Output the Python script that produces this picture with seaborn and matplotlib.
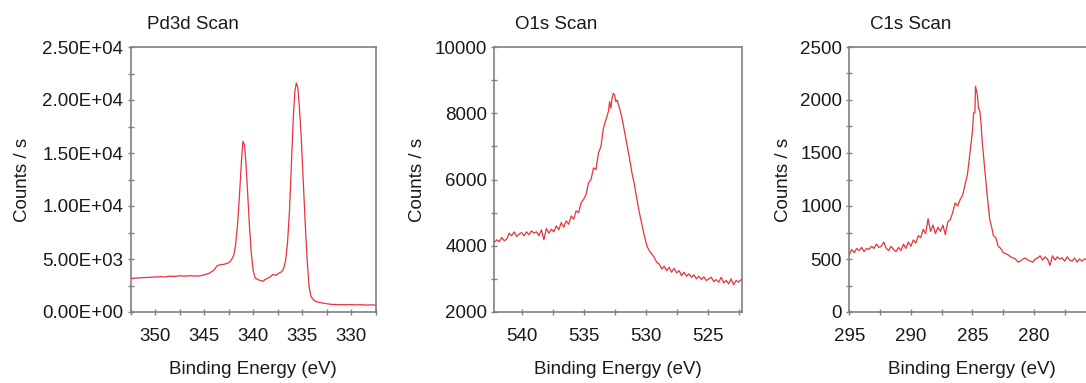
import matplotlib
matplotlib.use("Agg")
import matplotlib.pyplot as plt
from matplotlib.ticker import MultipleLocator, FuncFormatter
import seaborn as sns
import numpy as np

# ---------------- data ----------------
pd_energy = [352.6, 352.0, 351.5, 351.0, 350.5, 350.0, 349.5, 349.0, 348.5, 348.0,
             347.5, 347.0, 346.5, 346.0, 345.5, 345.0, 344.5, 344.0, 343.7, 343.4,
             343.0, 342.6, 342.3, 342.0, 341.8, 341.6, 341.4, 341.2, 341.05, 340.9,
             340.75, 340.6, 340.4, 340.2, 340.0, 339.8, 339.5, 339.2, 339.0, 338.8,
             338.5, 338.2, 338.0, 337.7, 337.4, 337.1, 336.9, 336.7, 336.5, 336.3,
             336.1, 335.9, 335.75, 335.6, 335.45, 335.3, 335.1, 334.9, 334.7, 334.5,
             334.3, 334.1, 333.8, 333.5, 333.0, 332.5, 332.0, 331.5, 331.0, 330.5,
             330.0, 329.5, 329.0, 328.5, 328.0, 327.5]
pd_counts = [3150, 3200, 3230, 3250, 3280, 3300, 3330, 3310, 3380, 3350,
             3420, 3380, 3420, 3400, 3400, 3500, 3650, 3950, 4350, 4450,
             4500, 4600, 4800, 5300, 6300, 8200, 11000, 14200, 16100, 15800,
             14200, 11800, 8400, 5600, 3900, 3200, 3050, 2950, 2900, 3050,
             3200, 3350, 3550, 3450, 3650, 3800, 4100, 4800, 6500, 9500,
             14000, 18500, 20800, 21600, 21200, 19500, 16500, 12500, 8500, 5000,
             2400, 1450, 1100, 950, 860, 780, 720, 700, 690, 680,
             700, 670, 690, 650, 680, 640]

o_energy = [542.2, 542.0, 541.8, 541.6, 541.4, 541.2, 541.0, 540.8, 540.6, 540.4,
            540.2, 540.0, 539.8, 539.6, 539.4, 539.2, 539.0, 538.8, 538.6, 538.4,
            538.2, 538.0, 537.8, 537.6, 537.4, 537.2, 537.0, 536.8, 536.6, 536.4,
            536.2, 536.0, 535.8, 535.6, 535.4, 535.2, 535.0, 534.8, 534.6, 534.4,
            534.2, 534.0, 533.8, 533.6, 533.4, 533.2, 533.0, 532.9, 532.8, 532.7,
            532.6, 532.5, 532.4, 532.3, 532.1, 531.9, 531.7, 531.5, 531.3, 531.1,
            530.9, 530.7, 530.5, 530.3, 530.1, 529.9, 529.7, 529.5, 529.3, 529.1,
            528.9, 528.7, 528.5, 528.3, 528.1, 527.9, 527.7, 527.5, 527.3, 527.1,
            526.9, 526.7, 526.5, 526.3, 526.1, 525.9, 525.7, 525.5, 525.3, 525.1,
            524.9, 524.7, 524.5, 524.3, 524.1, 523.9, 523.7, 523.5, 523.3, 523.1,
            522.9, 522.7, 522.5, 522.3, 522.1]
o_counts = [4100, 4180, 4120, 4250, 4150, 4200, 4380, 4300, 4420, 4280,
            4350, 4400, 4300, 4420, 4330, 4450, 4380, 4420, 4300, 4480,
            4180, 4520, 4380, 4500, 4420, 4600, 4480, 4700, 4560, 4750,
            4650, 4900, 4800, 5050, 5000, 5300, 5400, 5550, 5900, 6000,
            6350, 6300, 6800, 7000, 7550, 7800, 8050, 8350, 8150, 8450,
            8600, 8550, 8350, 8400, 8150, 7850, 7450, 7050, 6650, 6200,
            5850, 5400, 5000, 4650, 4300, 4000, 3850, 3750, 3650, 3500,
            3450, 3300, 3380, 3250, 3350, 3200, 3320, 3180, 3250, 3100,
            3200, 3080, 3150, 3050, 3120, 3000, 3080, 2980, 3060, 2950,
            3000, 3050, 2920, 2980, 2900, 3050, 2880, 2950, 2850, 3000,
            2820, 2950, 2900, 2980, 3000]

c_energy = [295.0, 294.8, 294.6, 294.4, 294.2, 294.0, 293.8, 293.6, 293.4, 293.2,
            293.0, 292.8, 292.6, 292.4, 292.2, 292.0, 291.8, 291.6, 291.4, 291.2,
            291.0, 290.8, 290.6, 290.4, 290.2, 290.0, 289.8, 289.6, 289.4, 289.2,
            289.0, 288.8, 288.6, 288.4, 288.2, 288.0, 287.8, 287.6, 287.4, 287.2,
            287.0, 286.8, 286.6, 286.4, 286.2, 286.0, 285.8, 285.6, 285.4, 285.2,
            285.0, 284.9, 284.8, 284.75, 284.6, 284.5, 284.4, 284.3, 284.2, 284.0,
            283.8, 283.6, 283.4, 283.3, 283.1, 282.9, 282.7, 282.5, 282.3, 282.1,
            281.9, 281.7, 281.5, 281.3, 281.1, 280.9, 280.7, 280.5, 280.3, 280.1,
            279.9, 279.7, 279.5, 279.3, 279.1, 278.9, 278.7, 278.5, 278.3, 278.1,
            277.9, 277.7, 277.5, 277.3, 277.1, 276.9, 276.7, 276.5, 276.3, 276.1,
            275.9, 275.5]
c_counts = [540, 590, 560, 600, 580, 610, 570, 600, 590, 620,
            600, 640, 610, 620, 660, 600, 580, 620, 590, 570,
            610, 580, 640, 600, 660, 620, 680, 650, 720, 700,
            780, 740, 880, 760, 820, 740, 800, 760, 820, 730,
            850, 870, 940, 1030, 1000, 1060, 1100, 1200, 1300, 1500,
            1700, 1880, 1880, 2130, 2050, 1920, 1900, 1780, 1600, 1350,
            1100, 880, 780, 720, 700, 620, 600, 560, 550, 540,
            520, 510, 500, 470, 480, 500, 510, 490, 480, 470,
            500, 510, 530, 490, 520, 500, 440, 530, 490, 520,
            500, 510, 480, 520, 490, 480, 510, 470, 500, 480,
            500, 490]

titles = ["Pd3d Scan", "O1s Scan", "C1s Scan"]
xlims = [(352.5, 327.5), (542.2, 522.2), (295.0, 275.1)]
ylims = [(0, 25000), (2000, 10000), (0, 2500)]
ymajor = [5000, 2000, 500]
xlabel = "Binding Energy (eV)"
ylabel = "Counts / s"

# ---------------- style ----------------
sns.set_style("white")
plt.rcParams["font.family"] = ["Liberation Sans", "DejaVu Sans"]
FS = 13.5
LINE = "#e8333d"
SPINE = "#808080"

fig = plt.figure(figsize=(10.86, 3.83), dpi=100)
W, H = 1086.0, 383.0
positions = [(130.7, 245), (494.3, 248), (849.3, 245)]
title_x = [0.0665, 0.083, 0.0845]
ylabel_x = [-0.407, -0.275, -0.234]

datasets = [(pd_energy, pd_counts), (o_energy, o_counts), (c_energy, c_counts)]

for i, (xs, ys) in enumerate(datasets):
    left, width = positions[i]
    ax = fig.add_axes([left / W, 71 / H, width / W, 265 / H])
    sns.lineplot(x=np.array(xs), y=np.array(ys), ax=ax, color=LINE,
                 linewidth=0.9, estimator=None)
    ax.set_xlim(*xlims[i])
    ax.set_ylim(*ylims[i])
    ax.xaxis.set_major_locator(MultipleLocator(5))
    ax.xaxis.set_minor_locator(MultipleLocator(2.5))
    ax.yaxis.set_major_locator(MultipleLocator(ymajor[i]))
    ax.yaxis.set_minor_locator(MultipleLocator(ymajor[i] / 2))
    if i == 0:
        ax.yaxis.set_major_formatter(FuncFormatter(lambda v, p: f"{v:.2E}"))
    else:
        ax.yaxis.set_major_formatter(FuncFormatter(lambda v, p: f"{int(round(v))}"))
    for s in ax.spines.values():
        s.set_color(SPINE)
        s.set_linewidth(1.2)
    ax.tick_params(axis="both", which="both", direction="inout", length=4.5,
                   width=1.0, color=SPINE, labelsize=FS, labelcolor="#1a1a1a",
                   bottom=True, left=True, top=False, right=False)
    ax.tick_params(axis="x", which="both", pad=9.5)
    ax.tick_params(axis="y", which="both", pad=3)
    ax.set_xlabel(xlabel, fontsize=FS, color="#1a1a1a")
    ax.set_ylabel(ylabel, fontsize=FS, color="#1a1a1a")
    ax.xaxis.set_label_coords(0.5, -0.185)
    ax.yaxis.set_label_coords(ylabel_x[i], 0.5)
    ax.text(title_x[i], 1.068, titles[i], transform=ax.transAxes,
            ha="left", va="baseline", fontsize=FS, color="#1a1a1a")

fig.savefig("out.png", dpi=100)
